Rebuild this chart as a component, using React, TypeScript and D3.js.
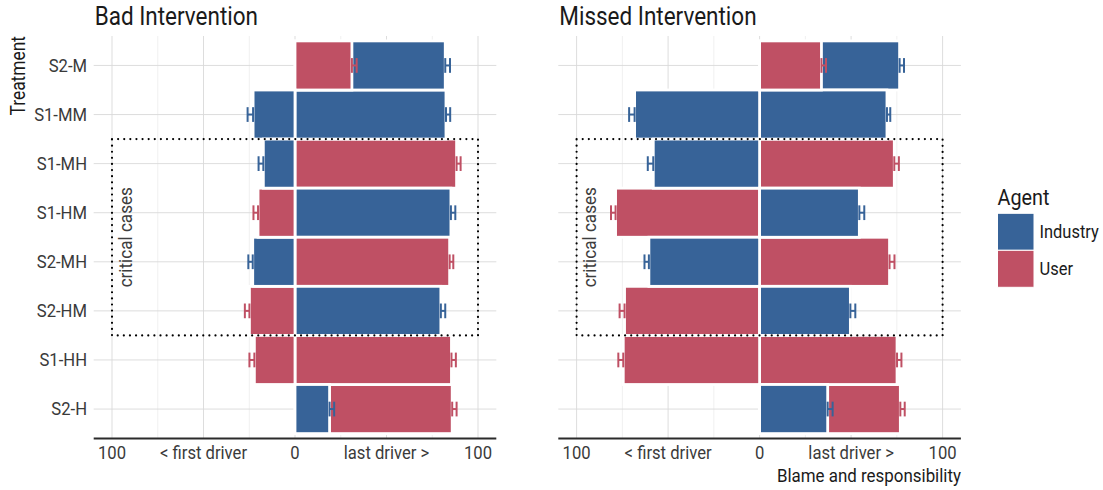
import React from 'react';
import * as d3 from 'd3';

const treatments = ['S2-M', 'S1-MM', 'S1-MH', 'S1-HM', 'S2-MH', 'S2-HM', 'S1-HH', 'S2-H'];
const agents = ['Industry', 'User'];
const agentColors = ['#376398', '#bf5064'];

// one entry per bar: treatment, agent, side (-1 first driver, +1 last driver)
const barTreatment = ['S2-M', 'S2-M', 'S1-MM', 'S1-MM', 'S1-MH', 'S1-MH', 'S1-HM', 'S1-HM', 'S2-MH', 'S2-MH', 'S2-HM', 'S2-HM', 'S1-HH', 'S1-HH', 'S2-H', 'S2-H'];
const barAgent = ['Industry', 'User', 'Industry', 'Industry', 'Industry', 'User', 'User', 'Industry', 'Industry', 'User', 'User', 'Industry', 'User', 'User', 'User', 'Industry'];
const barSide = [1, 1, -1, 1, -1, 1, -1, 1, -1, 1, -1, 1, -1, 1, 1, 1];

const badValues = [82.1, 31.1, 22.9, 82.5, 17.3, 88.3, 20.2, 85.2, 23.1, 84.5, 24.9, 79.7, 22.2, 85.5, 85.9, 18.9];
const badErrors = [2.6, 2.6, 3.0, 2.3, 2.6, 2.2, 2.5, 2.4, 2.4, 2.0, 2.5, 2.4, 2.7, 2.4, 2.4, 2.5];
const missedValues = [76.5, 33.8, 68.3, 69.6, 58.1, 73.6, 78.7, 54.5, 60.5, 71.0, 73.8, 49.6, 74.5, 75.1, 76.9, 37.2];
const missedErrors = [2.4, 2.5, 3.0, 1.8, 3.0, 2.5, 2.5, 2.7, 2.4, 2.7, 2.7, 2.7, 2.7, 2.4, 2.4, 2.7];

const panelTitles = ['Bad Intervention', 'Missed Intervention'];
const xTickValues = [-100, -50, 0, 50, 100];
const xTickLabels = ['100', '< first driver', '0', 'last driver >', '100'];
const xMinorTicks = [-75, -25, 25, 75];
const criticalFirst = 'S1-MH';
const criticalLast = 'S2-HM';
const criticalLabel = 'critical cases';

const FONT = "Roboto, 'Noto Sans', sans-serif";
const SX = 0.9;

const W = 1103;
const H = 490;
const panelLefts = [93.7, 558.3];
const panelWidth = 402.6;
const plotTop = 36;
const plotBottom = 438.5;

type TProps = {
  x: number; y: number; size: number; fill: string; anchor?: string; rotate?: number; baseline?: string; children: React.ReactNode;
};
function CText({ x, y, size, fill, anchor = 'start', rotate = 0, baseline, children }: TProps) {
  return (
    <text transform={`translate(${x},${y}) rotate(${rotate}) scale(${SX},1)`} textAnchor={anchor}
      dominantBaseline={baseline} fontFamily={FONT} fontSize={size} fill={fill}>{children}</text>
  );
}

function Panel({ idx, values, errors }: { idx: number; values: number[]; errors: number[] }) {
  const x = d3.scaleLinear().domain([-110, 110]).range([panelLefts[idx], panelLefts[idx] + panelWidth]);
  const y = d3.scaleBand().domain(treatments).range([plotTop, plotBottom]).paddingOuter(0.1).paddingInner(0);
  const bw = y.bandwidth();
  const color = d3.scaleOrdinal<string, string>().domain(agents).range(agentColors);
  const order = d3.range(values.length).sort((a, b) => values[b] - values[a]);
  const rectY0 = (y(criticalFirst) as number);
  const rectY1 = (y(criticalLast) as number) + bw;
  const labelY = (rectY0 + rectY1) / 2;
  const labelX = x(-93);
  return (
    <g>
      {xMinorTicks.map((t) => (
        <line key={'mi' + t} x1={x(t)} x2={x(t)} y1={plotTop} y2={plotBottom} stroke="#ececec" strokeWidth={0.8} />
      ))}
      {xTickValues.map((t) => (
        <line key={'ma' + t} x1={x(t)} x2={x(t)} y1={plotTop} y2={plotBottom} stroke="#d9d9d9" strokeWidth={0.9} />
      ))}
      {treatments.map((t) => (
        <line key={'h' + t} x1={x(-110)} x2={x(110)} y1={(y(t) as number) + bw / 2} y2={(y(t) as number) + bw / 2} stroke="#d9d9d9" strokeWidth={0.9} />
      ))}
      {order.map((i) => {
        const v = barSide[i] * values[i];
        const x0 = Math.min(x(0), x(v));
        const x1 = Math.max(x(0), x(v));
        return (
          <rect key={'b' + i} x={x0} y={y(barTreatment[i]) as number} width={x1 - x0} height={bw}
            fill={color(barAgent[i])} stroke="#ffffff" strokeWidth={2.8} />
        );
      })}
      {order.map((i) => {
        const v = barSide[i] * values[i];
        const e = barSide[i] * (values[i] + errors[i]);
        const yc = (y(barTreatment[i]) as number) + bw / 2;
        const th = bw * 0.15;
        const c = color(barAgent[i]);
        return (
          <g key={'e' + i} stroke={c} strokeWidth={2}>
            <line x1={x(v)} x2={x(e)} y1={yc} y2={yc} />
            <line x1={x(v)} x2={x(v)} y1={yc - th} y2={yc + th} />
            <line x1={x(e)} x2={x(e)} y1={yc - th} y2={yc + th} />
          </g>
        );
      })}
      <rect x={x(-100)} y={rectY0} width={x(100) - x(-100)} height={rectY1 - rectY0} fill="none"
        stroke="#000" strokeWidth={2.2} strokeDasharray="0.01 6.1" strokeLinecap="round" />
      <CText x={labelX} y={labelY} rotate={-90} anchor="middle" baseline="central" size={19} fill="#3d3d3d">{criticalLabel}</CText>
      <line x1={x(-110)} x2={x(110)} y1={plotBottom} y2={plotBottom} stroke="#2b2b2b" strokeWidth={1.8} />
      {xTickValues.map((t, k) => (
        <CText key={'xl' + t} x={x(t)} y={459} anchor="middle" size={18.5} fill="#3a3a3a">{xTickLabels[k]}</CText>
      ))}
      <CText x={panelLefts[idx] + 1} y={25} size={25} fill="#1a1a1a">{panelTitles[idx]}</CText>
      {idx === 0 && treatments.map((t) => (
        <CText key={'yl' + t} x={87} y={(y(t) as number) + bw / 2} anchor="end" baseline="central" size={18.5} fill="#3a3a3a">{t}</CText>
      ))}
    </g>
  );
}

export default function App() {
  const keyX = 997.5;
  const keyY = 213.3;
  const keyW = 36.5;
  const keyH = 37;
  return (
    <svg width={W} height={H} style={{ position: 'absolute', left: 0, top: 0, background: '#fff' }}>
      <rect x={0} y={0} width={W} height={H} fill="#fff" />
      <Panel idx={0} values={badValues} errors={badErrors} />
      <Panel idx={1} values={missedValues} errors={missedErrors} />
      <CText x={25} y={36} rotate={-90} anchor="end" size={19.3} fill="#1a1a1a">Treatment</CText>
      <CText x={961} y={482} anchor="end" size={18.8} fill="#1a1a1a">Blame and responsibility</CText>
      <CText x={keyX} y={205} size={22} fill="#1a1a1a">Agent</CText>
      {agents.map((a, k) => (
        <g key={a}>
          <rect x={keyX} y={keyY + k * keyH} width={keyW} height={keyH} fill={agentColors[k]} stroke="#fff" strokeWidth={1} />
          <CText x={1039.5} y={keyY + k * keyH + keyH / 2} baseline="central" size={18.3} fill="#1a1a1a">{a}</CText>
        </g>
      ))}
    </svg>
  );
}
